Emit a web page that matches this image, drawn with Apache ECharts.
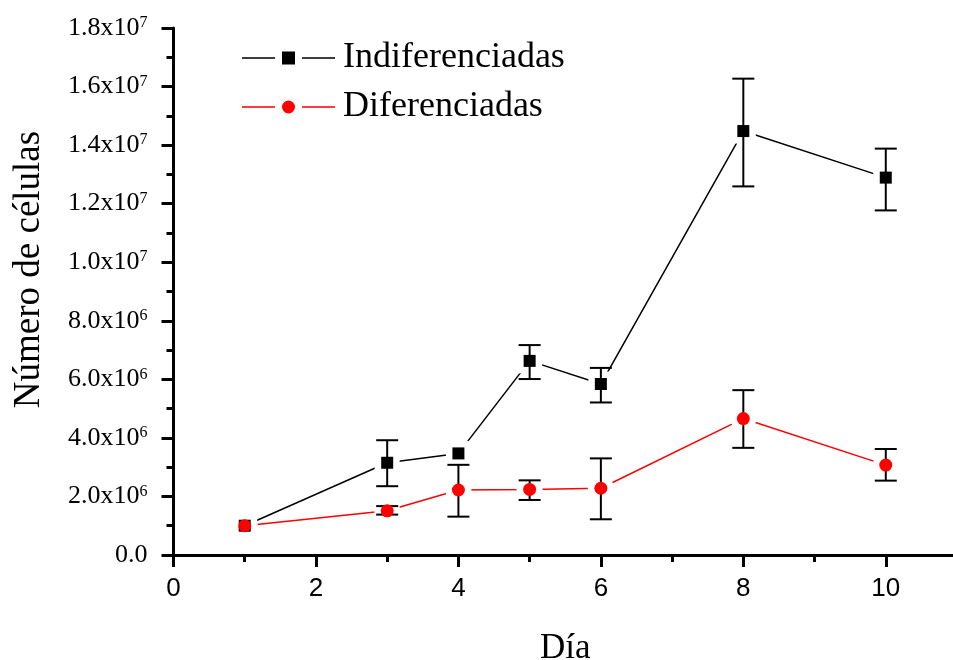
<!DOCTYPE html>
<html>
<head>
<meta charset="utf-8">
<script src="https://cdn.jsdelivr.net/npm/echarts@6/dist/echarts.min.js"></script>
<style>html,body{margin:0;padding:0;background:#fff}#c{width:953px;height:660px}</style>
</head>
<body>
<div id="c"></div>
<script>
const days = [1, 3, 4, 5, 6, 8, 10];
const indif = [1.0e6, 3.15e6, 3.47e6, 6.63e6, 5.84e6, 14.48e6, 12.89e6];
const indifHigh = [1.0e6, 3.92e6, 3.47e6, 7.17e6, 6.39e6, 16.27e6, 13.88e6];
const indifLow = [1.0e6, 2.35e6, 3.47e6, 6.01e6, 5.21e6, 12.59e6, 11.77e6];
const difer = [1.0e6, 1.51e6, 2.22e6, 2.24e6, 2.28e6, 4.66e6, 3.07e6];
const diferHigh = [1.0e6, 1.67e6, 3.08e6, 2.55e6, 3.30e6, 5.63e6, 3.62e6];
const diferLow = [1.0e6, 1.38e6, 1.31e6, 1.88e6, 1.22e6, 3.66e6, 2.54e6];
const yTickLabels = ['0.0', '2.0x10^6', '4.0x10^6', '6.0x10^6', '8.0x10^6', '1.0x10^7', '1.2x10^7', '1.4x10^7', '1.6x10^7', '1.8x10^7'];
const seriesNames = ['Indiferenciadas', 'Diferenciadas'];

const chart = echarts.init(document.getElementById('c'));

function pts(v) { return days.map((d, i) => [d, v[i]]); }
function errs(lo, hi) { return days.map((d, i) => [d, lo[i], hi[i]]); }

function errorRender(params, api) {
  const x = api.value(0), lo = api.value(1), hi = api.value(2);
  if (lo === hi) return null;
  const p1 = api.coord([x, hi]);
  const p2 = api.coord([x, lo]);
  const cap = 11;
  const st = { stroke: '#000', lineWidth: 2 };
  return {
    type: 'group',
    children: [
      { type: 'line', shape: { x1: p1[0], y1: p1[1], x2: p2[0], y2: p2[1] }, style: st },
      { type: 'line', shape: { x1: p1[0] - cap, y1: p1[1], x2: p1[0] + cap, y2: p1[1] }, style: st },
      { type: 'line', shape: { x1: p2[0] - cap, y1: p2[1], x2: p2[0] + cap, y2: p2[1] }, style: st }
    ]
  };
}

const serif = '"Liberation Serif", "Times New Roman", serif';
const sans = '"Liberation Sans", Arial, sans-serif';

// legend icons: line - gap - marker - gap - line
const iconSquare = 'path://M0,5.75L33,5.75L33,7.25L0,7.25Z M40,0L53,0L53,13L40,13Z M60,5.75L93,5.75L93,7.25L60,7.25Z';
const iconCircle = 'path://M0,5.75L33,5.75L33,7.25L0,7.25Z M53,6.5A6.5,6.5,0,1,1,40,6.5A6.5,6.5,0,1,1,53,6.5Z M60,5.75L93,5.75L93,7.25L60,7.25Z';

chart.setOption({
  animation: false,
  backgroundColor: '#fff',
  grid: { left: 173.5, right: -4, top: 28, bottom: 105, containLabel: false, outerBoundsMode: 'none' },
  legend: {
    orient: 'vertical', left: 237, top: 35, itemGap: 13,
    itemWidth: 93, itemHeight: 13,
    textStyle: { fontFamily: serif, fontSize: 36, color: '#000', padding: [0, 0, 0, 3] },
    data: [
      { name: seriesNames[0], icon: iconSquare },
      { name: seriesNames[1], icon: iconCircle }
    ]
  },
  xAxis: [{
    type: 'value', min: 0, max: 11, interval: 1,
    name: 'Día', nameLocation: 'middle', nameGap: 76,
    nameTextStyle: { fontFamily: serif, fontSize: 35, color: '#000' },
    axisLine: { show: true, onZero: false, lineStyle: { color: '#000', width: 3 } },
    axisTick: { show: true, length: 7, lineStyle: { color: '#000', width: 3 } },
    axisLabel: {
      margin: 21, fontFamily: sans, fontSize: 26, color: '#000', showMaxLabel: false,
      formatter: v => (v % 2 === 0 ? String(v) : '')
    },
    splitLine: { show: false }
  }, {
    type: 'value', min: 0, max: 11, interval: 2, position: 'bottom',
    axisLine: { show: false, onZero: false },
    axisTick: { show: true, length: 12, lineStyle: { color: '#000', width: 3 } },
    axisLabel: { show: false },
    splitLine: { show: false }
  }],
  yAxis: {
    type: 'value', min: 0, max: 1.8e7, interval: 2e6,
    name: 'Número de células', nameLocation: 'middle', nameGap: 126,
    nameTextStyle: { fontFamily: serif, fontSize: 37, color: '#000', padding: [0, 0, 0, 44] },
    axisLine: { show: true, onZero: false, lineStyle: { color: '#000', width: 3 } },
    axisTick: { show: true, length: 12, lineStyle: { color: '#000', width: 3 } },
    minorTick: { show: true, splitNumber: 2, length: 7, lineStyle: { color: '#000', width: 3 } },
    axisLabel: {
      margin: 26, color: '#000',
      formatter: (v, i) => {
        const lab = yTickLabels[i] || '';
        const parts = lab.split('^');
        if (parts.length === 1) return '{b|' + lab + '}';
        return '{b|' + parts[0] + '}{s|' + parts[1] + '}';
      },
      rich: {
        b: { fontFamily: serif, fontSize: 26, lineHeight: 26, verticalAlign: 'bottom', color: '#000' },
        s: { fontFamily: serif, fontSize: 16, lineHeight: 16, verticalAlign: 'top', padding: [0, 0, 18, 0], color: '#000' }
      }
    },
    splitLine: { show: false }
  },
  series: [
    {
      type: 'line', name: seriesNames[0], data: pts(indif), z: 2,
      symbol: 'rect', symbolSize: 12, showAllSymbol: true,
      lineStyle: { color: '#000', width: 1.5 }, itemStyle: { color: '#000' }
    },
    {
      type: 'line', name: seriesNames[1], data: pts(difer), z: 2,
      symbol: 'circle', symbolSize: 13, showAllSymbol: true,
      lineStyle: { color: '#ff0000', width: 1.5 }, itemStyle: { color: '#ff0000' }
    },
    {
      type: 'scatter', name: 'haloInd', data: pts(indif), z: 3, silent: true,
      symbol: 'rect', symbolSize: 25, itemStyle: { color: '#fff', opacity: 1 }
    },
    {
      type: 'scatter', name: 'haloDif', data: pts(difer), z: 3, silent: true,
      symbol: 'circle', symbolSize: 26, itemStyle: { color: '#fff', opacity: 1 }
    },
    {
      type: 'custom', name: 'errInd', renderItem: errorRender, data: errs(indifLow, indifHigh),
      encode: { x: 0, y: [1, 2] }, z: 4, silent: true
    },
    {
      type: 'custom', name: 'errDif', renderItem: errorRender, data: errs(diferLow, diferHigh),
      encode: { x: 0, y: [1, 2] }, z: 4, silent: true
    },
    {
      type: 'scatter', name: 'markInd', data: pts(indif), z: 5, silent: true,
      symbol: 'rect', symbolSize: 12, itemStyle: { color: '#000', opacity: 1 }
    },
    {
      type: 'scatter', name: 'markDif', data: pts(difer), z: 6, silent: true,
      symbol: 'circle', symbolSize: 13, itemStyle: { color: '#ff0000', opacity: 1 }
    }
  ]
});
</script>
</body>
</html>
